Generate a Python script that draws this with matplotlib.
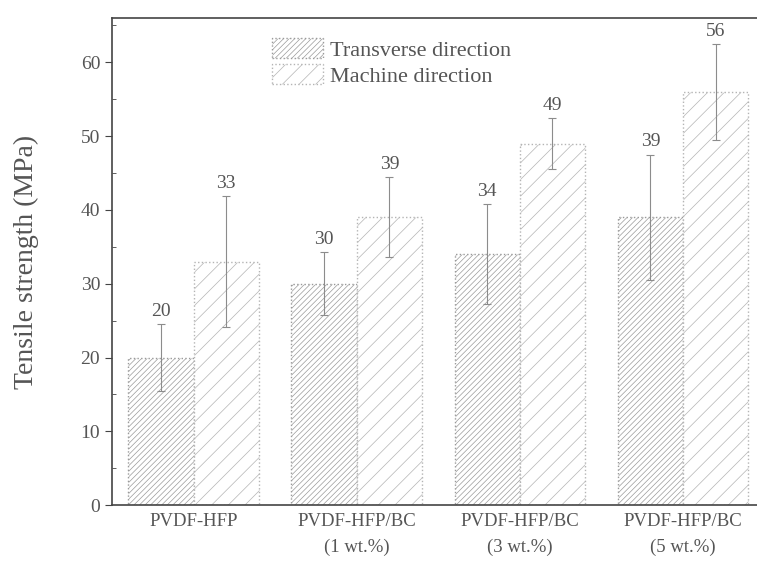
import numpy as np
import matplotlib
matplotlib.use("Agg")
import matplotlib.pyplot as plt

# tensile strength of the membranes, two loading directions
samples = ["PVDF-HFP", "PVDF-HFP/BC\n(1 wt.%)", "PVDF-HFP/BC\n(3 wt.%)", "PVDF-HFP/BC\n(5 wt.%)"]
transverse = [20, 30, 34, 39]
transverse_err = [4.5, 4.3, 6.8, 8.5]
machine = [33, 39, 49, 56]
machine_err = [8.9, 5.4, 3.5, 6.5]

plt.rcParams['font.family'] = 'Liberation Serif'
plt.rcParams['hatch.linewidth'] = 0.5

fig = plt.figure(figsize=(7.57, 5.65), dpi=100)
ax = fig.add_axes([0.148, 0.106, 0.862, 0.862])

x = np.arange(len(samples))
w = 0.4
txt = '#555555'

b1 = ax.bar(x - w / 2, transverse, w, facecolor='white', edgecolor='#9a9a9a',
            hatch='//////', linestyle=':', linewidth=1.0, label='Transverse direction')
b2 = ax.bar(x + w / 2, machine, w, facecolor='white', edgecolor='#b4b4b4',
            hatch='//', linestyle=':', linewidth=1.0, label='Machine direction')

ax.errorbar(x - w / 2, transverse, yerr=transverse_err, fmt='none',
            ecolor='#8c8c8c', elinewidth=0.8, capsize=3, capthick=0.8)
ax.errorbar(x + w / 2, machine, yerr=machine_err, fmt='none',
            ecolor='#8c8c8c', elinewidth=0.8, capsize=3, capthick=0.8)

# value labels just above the whiskers
for xi, v, e in zip(x - w / 2, transverse, transverse_err):
    ax.annotate(f'{v}', (xi, v + e), xytext=(0, 3), textcoords='offset points',
                ha='center', va='bottom', fontsize=14, color=txt)
for xi, v, e in zip(x + w / 2, machine, machine_err):
    ax.annotate(f'{v}', (xi, v + e), xytext=(0, 3), textcoords='offset points',
                ha='center', va='bottom', fontsize=14, color=txt)

ax.set_xlim(-0.5, 3.5)
ax.set_ylim(0, 66)
ax.set_yticks(np.arange(0, 61, 10))
ax.set_yticks(np.arange(5, 66, 10), minor=True)
ax.set_xticks(x)
ax.set_xticklabels(samples, fontsize=13.5, color=txt, linespacing=1.6)
ax.tick_params(axis='y', which='major', direction='out', length=5, labelsize=14,
               labelcolor=txt, color='#444444')
ax.tick_params(axis='y', which='minor', direction='in', length=3, color='#444444')
ax.tick_params(axis='y', which='both', right=True)
ax.tick_params(axis='x', length=0, pad=6)

for s in ax.spines.values():
    s.set_color('#444444')
    s.set_linewidth(1.2)

ax.set_ylabel('Tensile strength (MPa)', fontsize=20, color=txt, labelpad=30)

ax.legend(loc='upper left', bbox_to_anchor=(0.215, 1.0), frameon=False,
          fontsize=16, labelcolor=txt, handlelength=2.3, handleheight=1.0,
          handletextpad=0.3, labelspacing=0.15)

fig.savefig('out.png', dpi=100)
